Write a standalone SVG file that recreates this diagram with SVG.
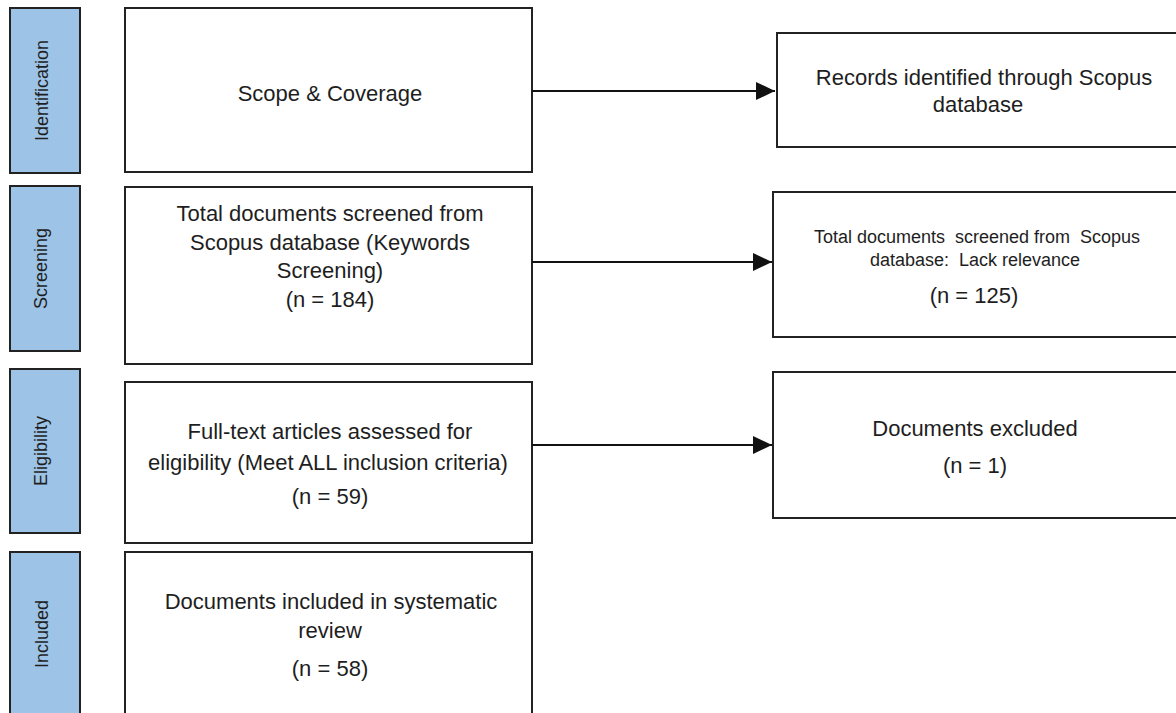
<svg xmlns="http://www.w3.org/2000/svg" width="1176" height="713" viewBox="0 0 1176 713">
  <style>
    .box { fill: #ffffff; stroke: #222222; stroke-width: 2; }
    .side { fill: #9dc3e6; stroke: #222222; stroke-width: 2; }
    .t { font-family: "Liberation Sans", Arial, sans-serif; font-size: 22px; fill: #1e1e1e; text-anchor: middle; }
    .ts { font-family: "Liberation Sans", Arial, sans-serif; font-size: 18px; fill: #1e1e1e; text-anchor: middle; }
    .conn { stroke: #111111; stroke-width: 2; fill: none; }
  </style>
  <defs>
    <marker id="arrow" markerUnits="userSpaceOnUse" markerWidth="19" markerHeight="18" refX="19" refY="9" orient="auto">
      <path d="M0,0 L19,9 L0,18 z" fill="#111111"/>
    </marker>
  </defs>
  <rect width="1176" height="713" fill="#ffffff"/>

  <g id="stage-identification">
    <rect class="side" x="10" y="8" width="70" height="165"/>
    <text class="ts" transform="translate(48,90.5) rotate(-90)">Identification</text>
  </g>
  <g id="stage-screening">
    <rect class="side" x="10" y="186" width="70" height="165"/>
    <text class="ts" transform="translate(47,268.5) rotate(-90)">Screening</text>
  </g>
  <g id="stage-eligibility">
    <rect class="side" x="10" y="369" width="70" height="164"/>
    <text class="ts" transform="translate(47,451) rotate(-90)">Eligibility</text>
  </g>
  <g id="stage-included">
    <rect class="side" x="10" y="552" width="70" height="164"/>
    <text class="ts" transform="translate(48,634) rotate(-90)">Included</text>
  </g>

  <g id="scope">
    <rect class="box" x="125" y="8" width="407" height="164"/>
    <text class="t" x="330" y="101">Scope &amp; Coverage</text>
  </g>
  <g id="screened">
    <rect class="box" x="125" y="187" width="407" height="177"/>
    <text class="t" x="330" y="221">Total documents screened from</text>
    <text class="t" x="330" y="250">Scopus database (Keywords</text>
    <text class="t" x="330" y="278">Screening)</text>
    <text class="t" x="330" y="307">(n = 184)</text>
  </g>
  <g id="eligible">
    <rect class="box" x="125" y="382" width="407" height="161"/>
    <text class="t" x="330" y="439">Full-text articles assessed for</text>
    <text class="t" x="328" y="470">eligibility (Meet ALL inclusion criteria)</text>
    <text class="t" x="330" y="504">(n = 59)</text>
  </g>
  <g id="included">
    <rect class="box" x="125" y="552" width="407" height="170"/>
    <text class="t" x="331" y="609">Documents included in systematic</text>
    <text class="t" x="330" y="638">review</text>
    <text class="t" x="330" y="676">(n = 58)</text>
  </g>

  <g id="records">
    <rect class="box" x="777" y="33" width="420" height="114"/>
    <text class="t" x="984" y="85">Records identified through Scopus</text>
    <text class="t" x="978" y="112">database</text>
  </g>
  <g id="lack-relevance">
    <rect class="box" x="773" y="192" width="420" height="145"/>
    <text class="ts" x="977" y="243">Total documents&#160; screened from&#160; Scopus</text>
    <text class="ts" x="975" y="266">database:&#160; Lack relevance</text>
    <text class="t" x="974" y="303">(n = 125)</text>
  </g>
  <g id="excluded">
    <rect class="box" x="773" y="372" width="420" height="146"/>
    <text class="t" x="975" y="436">Documents excluded</text>
    <text class="t" x="975" y="473">(n = 1)</text>
  </g>

  <g id="connectors">
    <line class="conn" x1="532" y1="91" x2="775" y2="91" marker-end="url(#arrow)"/>
    <line class="conn" x1="532" y1="262" x2="772" y2="262" marker-end="url(#arrow)"/>
    <line class="conn" x1="532" y1="445" x2="772" y2="445" marker-end="url(#arrow)"/>
  </g>
</svg>
